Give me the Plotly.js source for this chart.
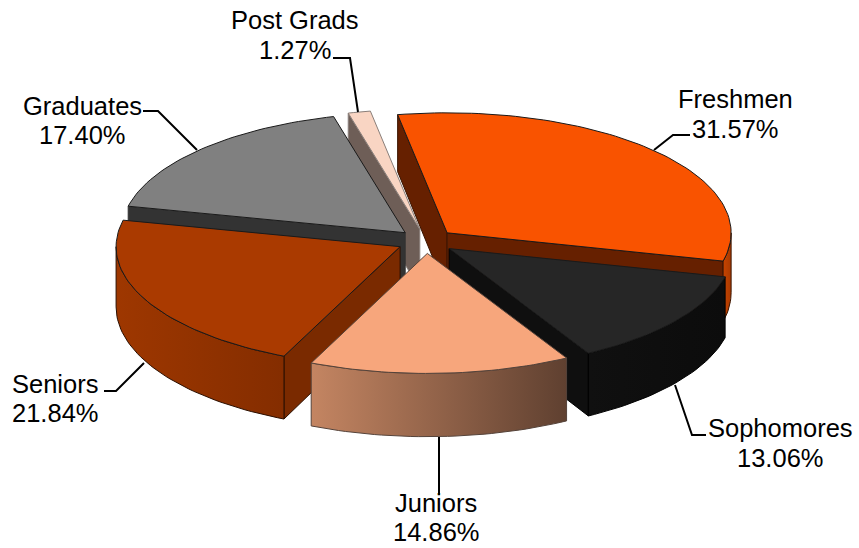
<!DOCTYPE html>
<html><head><meta charset="utf-8">
<script src="https://cdn.plot.ly/plotly-3.0.1.min.js"></script>
<style>html,body{margin:0;padding:0;background:#fff}#c{width:859px;height:548px}</style>
</head><body><div id="c"></div>
<script>
// Data
const categories = ["Freshmen","Sophomores","Juniors","Seniors","Graduates","Post Grads"];
const percents = [31.57,13.06,14.86,21.84,17.40,1.27];
const percentLabels = ["31.57%","13.06%","14.86%","21.84%","17.40%","1.27%"];
// Styles
const topColors = ["#f95300","#262626","#f7a67c","#aa3a00","#808080","#f9d5c3"];
const innerColors = ["#662000","#0f0f0f","#7a4a35","#7a2a00","#333333","#6e5e57"];
const outerLeft = ["#c64400","#101010","#c48562","#9e3700","#808080","#f9d5c3"];
const outerRight = ["#aa3a00","#0c0c0c","#5f4030","#842d00","#808080","#f9d5c3"];
const edgeColors = ["#3a1400","#000000","#55433a","#2b0f00","#333333","#8a7f7a"];
const nameX = [735,780,436,55,82,295], nameY = [99,428,503,384,106,20];
const pctY = [129,458,532,413,135,50];
const leaders = [
 [[654,150],[673,135],[690,135]],
 [[675,385],[692,435],[706,435]],
 [[439,437],[439,495]],
 [[104,391],[116,391],[144,363]],
 [[143,111],[158,111],[197,150]],
 [[333,58],[350,58],[358,112]]
];
const drawOrder = [5,4,0,3,1,2];
// Pie geometry
const cx=426, cy=241.2, rx=284, ry=120, startDeg=-10.03, explode=0.102;
const depth = y => 57 + (y-113)*6/250;
const rad = d => d*Math.PI/180;

const total = percents.reduce((a,b)=>a+b,0);
let acc = startDeg;
const slices = percents.map(p=>{const s={t0:acc,t1:acc+p/total*360};acc=s.t1;return s;});
slices.forEach(s=>{
  const m=rad((s.t0+s.t1)/2);
  s.ax=cx+explode*rx*Math.sin(m); s.ay=cy-explode*ry*Math.cos(m);
  s.pt=t=>[s.ax+rx*Math.sin(rad(t)), s.ay-ry*Math.cos(rad(t))];
});
function arc(s,a,b){const o=[];const n=Math.max(2,Math.ceil(Math.abs(b-a)/1.5));
  for(let i=0;i<=n;i++)o.push(s.pt(a+(b-a)*i/n));return o;}
function poly(pts,fill,edge,name,grad){
  const tr={type:'scatter',mode:'lines',x:pts.map(p=>p[0]).concat(pts[0][0]),y:pts.map(p=>p[1]).concat(pts[0][1]),
    fill:'toself',line:{color:edge,width:1},name:name,hoverinfo:'name',showlegend:false};
  if(grad)tr.fillgradient={type:'horizontal',colorscale:[[0,grad[0]],[1,grad[1]]]};
  else tr.fillcolor=fill;
  return tr;
}
const down=p=>[p[0],p[1]+depth(p[1])];
const traces=[];
drawOrder.forEach(i=>{
  const s=slices[i], name=categories[i]+" "+percentLabels[i], apex=[s.ax,s.ay];
  const walls=[];
  if(Math.sin(rad(s.t0))<0)walls.push(s.t0);
  if(Math.sin(rad(s.t1))>0)walls.push(s.t1);
  walls.forEach(t=>{
    const e=s.pt(t);
    traces.push(poly([apex,e,down(e),down(apex)],innerColors[i],edgeColors[i],name));
  });
  const a=Math.max(s.t0,90), b=Math.min(s.t1,270);
  if(b>a){
    const top=arc(s,a,b);
    const pts=top.concat(top.slice().reverse().map(down));
    traces.push(poly(pts,null,edgeColors[i],name,[outerLeft[i],outerRight[i]]));
  }
  traces.push(poly([apex].concat(arc(s,s.t0,s.t1)),topColors[i],i===5?"#8a7f7a":(i===2?"#55433a":"#1a1a1a"),name));
});
const font={family:'"Liberation Sans",Arial,sans-serif',size:25.5,color:'#000'};
const annotations=[];
categories.forEach((c,i)=>{
  annotations.push({x:nameX[i],y:nameY[i],xref:'x',yref:'y',text:c,showarrow:false,font,xanchor:'center',yanchor:'middle'});
  annotations.push({x:nameX[i],y:pctY[i],xref:'x',yref:'y',text:percentLabels[i],showarrow:false,font,xanchor:'center',yanchor:'middle'});
});
const shapes=leaders.map(l=>({type:'path',xref:'x',yref:'y',layer:'above',
  path:l.map((p,k)=>(k?'L':'M')+p[0]+','+p[1]).join(' '),line:{color:'#000',width:2}}));
const ax={visible:false,fixedrange:true,showgrid:false,zeroline:false};
Plotly.newPlot('c',traces,{
  width:859,height:548,margin:{l:0,r:0,t:0,b:0},paper_bgcolor:'#fff',plot_bgcolor:'#fff',showlegend:false,
  xaxis:Object.assign({range:[0,859]},ax),yaxis:Object.assign({range:[548,0]},ax),
  annotations,shapes
},{displayModeBar:false,staticPlot:false});
</script></body></html>
